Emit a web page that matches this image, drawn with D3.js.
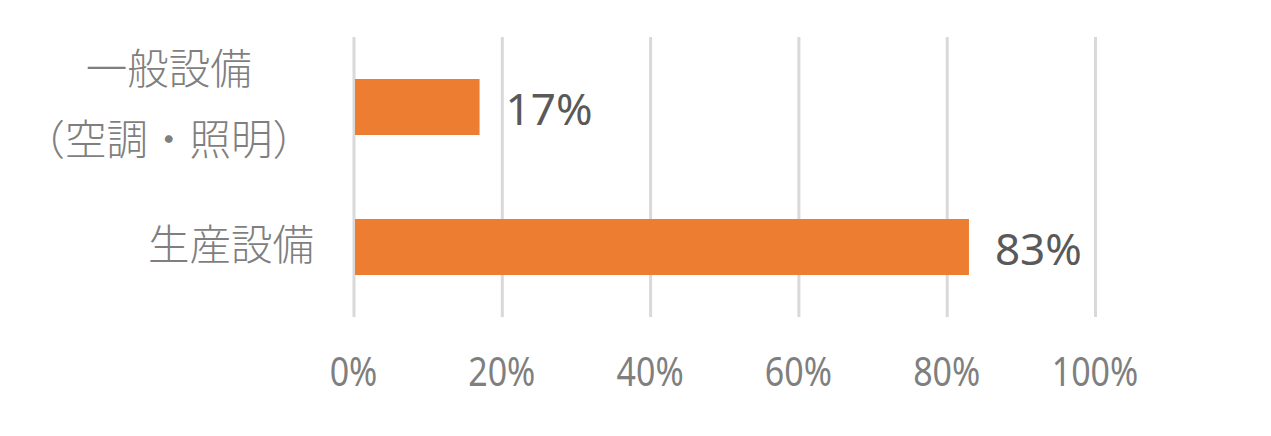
<!DOCTYPE html>
<html>
<head>
<meta charset="utf-8">
<script src="https://cdn.jsdelivr.net/npm/d3@7"></script>
<style>
  body { margin: 0; background: #fff; }
  svg { display: block; }
</style>
</head>
<body>
<div id="chart"></div>
<script>
const categories = [['一般設備', '（空調・照明）'], ['生産設備']];
const values = [17, 83];
const tickValues = [0, 20, 40, 60, 80, 100];

const width = 1271;
const height = 436;
const plot = { left: 353.5, right: 1095, top: 37, bottom: 317 };

const svg = d3
  .select('#chart')
  .append('svg')
  .attr('width', width)
  .attr('height', height);

const x = d3.scaleLinear().domain([0, 100]).range([plot.left, plot.right]);

const y = d3
  .scaleBand()
  .domain(d3.range(categories.length))
  .range([plot.top, plot.bottom])
  .paddingInner(0.6)
  .paddingOuter(0.3);

// gridlines
svg
  .append('g')
  .attr('class', 'grid')
  .attr('transform', `translate(0,${plot.bottom})`)
  .call(
    d3
      .axisBottom(x)
      .tickValues(tickValues)
      .tickSize(-(plot.bottom - plot.top))
      .tickFormat('')
  )
  .call((g) => g.select('.domain').remove())
  .call((g) => g.selectAll('line').attr('stroke', '#d9d9d9').attr('stroke-width', 3));

// tick labels
svg
  .append('g')
  .selectAll('text')
  .data(tickValues)
  .enter()
  .append('text')
  .attr('transform', (d) => `translate(${x(d)},386) scale(0.85,1)`)
  .attr('text-anchor', 'middle')
  .attr('font-family', 'Noto Sans, sans-serif')
  .attr('font-size', 40)
  .attr('fill', '#7f7f7f')
  .text((d) => `${d}%`);

// bars
svg
  .append('g')
  .selectAll('rect')
  .data(values)
  .enter()
  .append('rect')
  .attr('x', x(0) + 1.5)
  .attr('y', (d, i) => y(i))
  .attr('width', (d) => x(d) - x(0) - 1.5)
  .attr('height', y.bandwidth())
  .attr('fill', '#ED7D31');

// data labels
svg
  .append('g')
  .selectAll('text')
  .data(values)
  .enter()
  .append('text')
  .attr('x', (d) => x(d) + 26)
  .attr('y', (d, i) => y(i) + y.bandwidth() / 2 + 18)
  .attr('font-family', 'Noto Sans, sans-serif')
  .attr('font-size', 44)
  .attr('fill', '#595959')
  .text((d) => `${d}%`);

// category labels
const catFont = 41.5;
const lineGap = 71;
const labelRight = 314;
categories.forEach(function (lines, i) {
  const cy = y(i) + y.bandwidth() / 2 - 2;
  const g = svg.append('g');
  const texts = g
    .selectAll('text')
    .data(lines)
    .enter()
    .append('text')
    .attr('font-family', 'Noto Sans CJK JP, sans-serif')
    .attr('font-weight', 300)
    .attr('font-size', catFont)
    .attr('fill', '#7f7f7f')
    .attr('text-anchor', 'middle')
    .attr('y', (d, j) => cy + (j - (lines.length - 1) / 2) * lineGap + catFont * 0.36)
    .text((d) => d);
  let maxW = 0;
  texts.each(function () {
    maxW = Math.max(maxW, this.getComputedTextLength());
  });
  texts.attr('x', labelRight - maxW / 2);
});
</script>
</body>
</html>
